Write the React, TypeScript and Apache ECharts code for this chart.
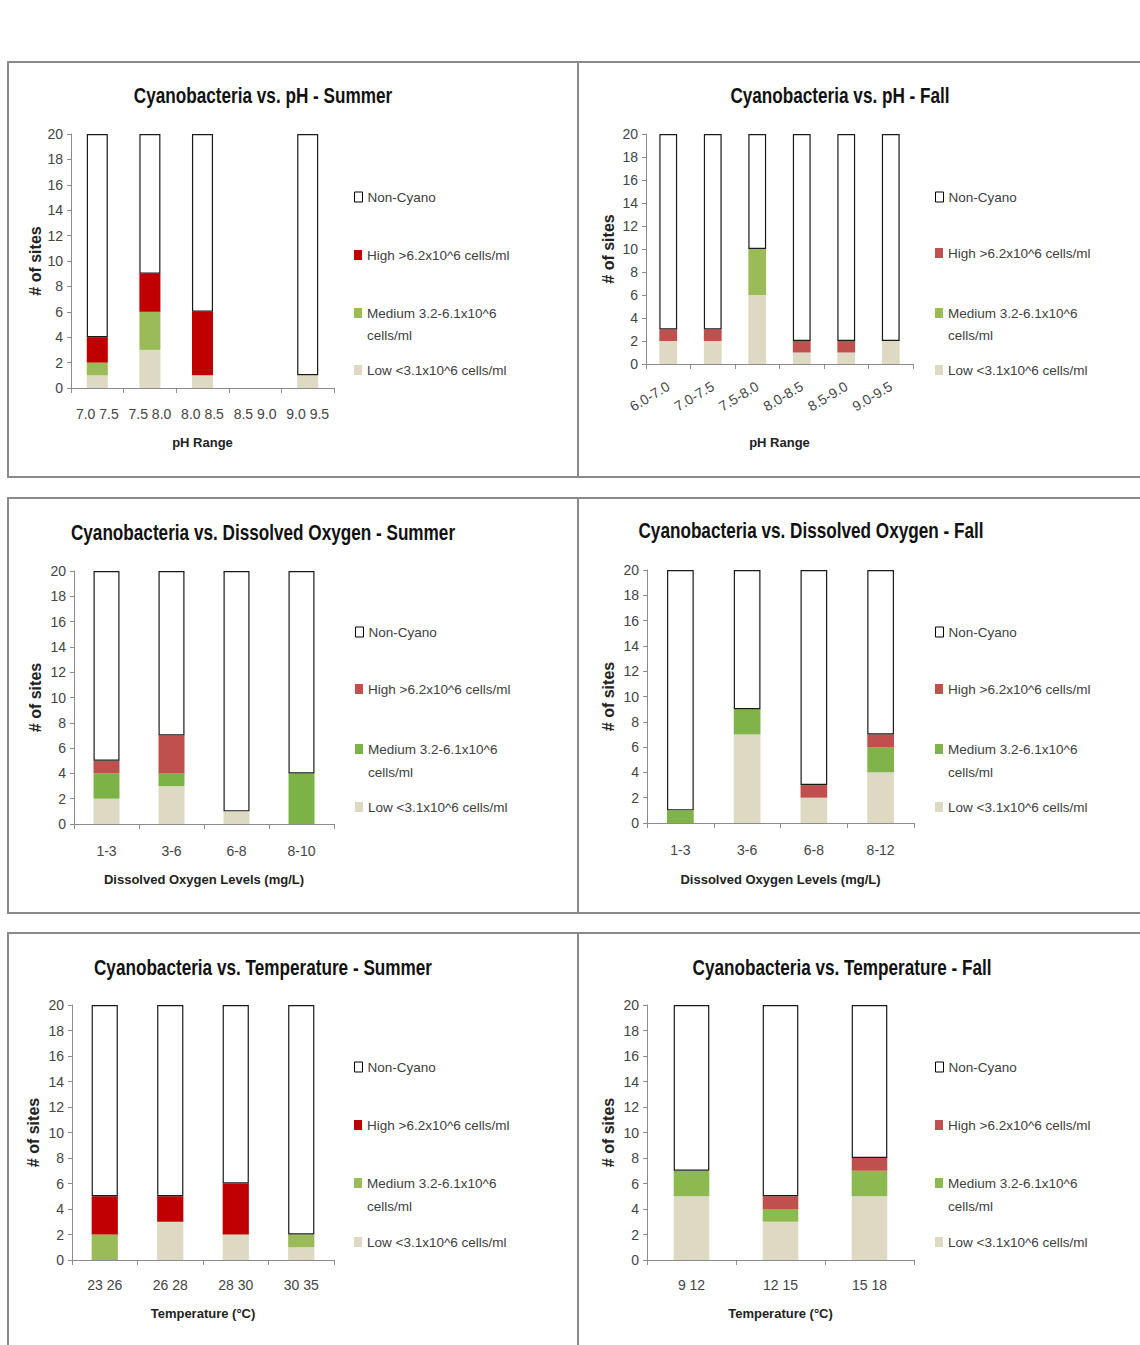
import React, { useEffect, useRef } from "react";
import * as echarts from "echarts";

const FONT = '"Liberation Sans Narrow", "Liberation Sans", Arial, sans-serif';

const NAME_LOW = "Low <3.1x10^6 cells/ml";
const NAME_MED = "Medium 3.2-6.1x10^6 cells/ml";
const NAME_HIGH = "High >6.2x10^6 cells/ml";
const NAME_NON = "Non-Cyano";

// ---- Data ----
const phSummerCats = ["7.0 7.5", "7.5 8.0", "8.0 8.5", "8.5 9.0", "9.0 9.5"];
const phSummerLow = [1, 3, 1, 0, 1];
const phSummerMed = [1, 3, 0, 0, 0];
const phSummerHigh = [2, 3, 5, 0, 0];
const phSummerNon = [16, 11, 14, 0, 19];

const phFallCats = ["6.0-7.0", "7.0-7.5", "7.5-8.0", "8.0-8.5", "8.5-9.0", "9.0-9.5"];
const phFallLow = [2, 2, 6, 1, 1, 2];
const phFallMed = [0, 0, 4, 0, 0, 0];
const phFallHigh = [1, 1, 0, 1, 1, 0];
const phFallNon = [17, 17, 10, 18, 18, 18];

const doSummerCats = ["1-3", "3-6", "6-8", "8-10"];
const doSummerLow = [2, 3, 1, 0];
const doSummerMed = [2, 1, 0, 4];
const doSummerHigh = [1, 3, 0, 0];
const doSummerNon = [15, 13, 19, 16];

const doFallCats = ["1-3", "3-6", "6-8", "8-12"];
const doFallLow = [0, 7, 2, 4];
const doFallMed = [1, 2, 0, 2];
const doFallHigh = [0, 0, 1, 1];
const doFallNon = [19, 11, 17, 13];

const tempSummerCats = ["23 26", "26 28", "28 30", "30 35"];
const tempSummerLow = [0, 3, 2, 1];
const tempSummerMed = [2, 0, 0, 1];
const tempSummerHigh = [3, 2, 4, 0];
const tempSummerNon = [15, 15, 14, 18];

const tempFallCats = ["9 12", "12 15", "15 18"];
const tempFallLow = [5, 3, 5];
const tempFallMed = [2, 1, 2];
const tempFallHigh = [0, 1, 1];
const tempFallNon = [13, 15, 12];

const Y_MIN = 0;
const Y_MAX = 20;
const Y_STEP = 2;

// ---- Layout / style per panel ----
const panels = [
  {
    title: "Cyanobacteria vs. pH - Summer", tx: 263, ty: 95,
    cats: phSummerCats, low: phSummerLow, med: phSummerMed, high: phSummerHigh, non: phSummerNon,
    cHigh: "#C00000", cMed: "#9BBB59", cLow: "#DDD9C3",
    grid: { left: 71, top: 134, width: 263, height: 254 },
    xName: "pH Range", xNameGap: 48, yNameGap: 28, labelMargin: 19, rotate: 0,
    legX: 354, rows: [197, 255, 313, 335, 370],
  },
  {
    title: "Cyanobacteria vs. pH - Fall", tx: 840, ty: 95,
    cats: phFallCats, low: phFallLow, med: phFallMed, high: phFallHigh, non: phFallNon,
    cHigh: "#C0504D", cMed: "#9BBB59", cLow: "#DDD9C3",
    grid: { left: 646, top: 134, width: 267, height: 230 },
    xName: "pH Range", xNameGap: 72, yNameGap: 30, labelMargin: 21, rotate: 31,
    legX: 935, rows: [197, 253, 313, 335, 370],
  },
  {
    title: "Cyanobacteria vs. Dissolved Oxygen - Summer", tx: 263, ty: 532,
    cats: doSummerCats, low: doSummerLow, med: doSummerMed, high: doSummerHigh, non: doSummerNon,
    cHigh: "#C0504D", cMed: "#7DB346", cLow: "#DDD9C3",
    grid: { left: 74, top: 571, width: 260, height: 253 },
    xName: "Dissolved Oxygen Levels (mg/L)", xNameGap: 49, yNameGap: 31, labelMargin: 20, rotate: 0,
    legX: 355, rows: [632, 689, 749, 772, 807],
  },
  {
    title: "Cyanobacteria vs. Dissolved Oxygen - Fall", tx: 811, ty: 530,
    cats: doFallCats, low: doFallLow, med: doFallMed, high: doFallHigh, non: doFallNon,
    cHigh: "#C0504D", cMed: "#80B44A", cLow: "#DDD9C3",
    grid: { left: 647, top: 570, width: 267, height: 253 },
    xName: "Dissolved Oxygen Levels (mg/L)", xNameGap: 50, yNameGap: 31, labelMargin: 20, rotate: 0,
    legX: 935, rows: [632, 689, 749, 772, 807],
  },
  {
    title: "Cyanobacteria vs. Temperature - Summer", tx: 263, ty: 967,
    cats: tempSummerCats, low: tempSummerLow, med: tempSummerMed, high: tempSummerHigh, non: tempSummerNon,
    cHigh: "#C00000", cMed: "#9BBB59", cLow: "#DDD9C3",
    grid: { left: 72, top: 1005, width: 262, height: 255 },
    xName: "Temperature (°C)", xNameGap: 47, yNameGap: 31, labelMargin: 18, rotate: 0,
    legX: 354, rows: [1067, 1125, 1183, 1206, 1242],
  },
  {
    title: "Cyanobacteria vs. Temperature - Fall", tx: 842, ty: 967,
    cats: tempFallCats, low: tempFallLow, med: tempFallMed, high: tempFallHigh, non: tempFallNon,
    cHigh: "#C0504D", cMed: "#8DBA50", cLow: "#DDD9C3",
    grid: { left: 647, top: 1005, width: 267, height: 255 },
    xName: "Temperature (°C)", xNameGap: 47, yNameGap: 31, labelMargin: 18, rotate: 0,
    legX: 935, rows: [1067, 1125, 1183, 1206, 1242],
  },
];

const nz = (arr: number[]) => arr.map((v) => (v === 0 ? "-" : v));

function buildOption() {
  const grid: any[] = [];
  const xAxis: any[] = [];
  const yAxis: any[] = [];
  const series: any[] = [];
  const legend: any[] = [];
  const graphic: any[] = [];

  const axisGray = "#8c8c8c";
  const labelColor = "#444";
  const legendFont = 13.5;

  panels.forEach((p, i) => {
    grid.push({ ...p.grid, containLabel: false });
    graphic.push({
      type: "text",
      x: p.tx,
      y: p.ty,
      scaleX: 0.78,
      style: {
        text: p.title,
        fontFamily: FONT,
        fontSize: 22,
        fontWeight: "bold",
        fill: "#111",
        align: "center",
        verticalAlign: "middle",
      },
    });
    xAxis.push({
      type: "category",
      gridIndex: i,
      data: p.cats,
      name: p.xName,
      nameLocation: "middle",
      nameGap: p.xNameGap,
      nameTextStyle: { fontFamily: FONT, fontSize: 13, fontWeight: "bold", color: "#222" },
      axisLine: { show: true, lineStyle: { color: axisGray, width: 1 } },
      axisTick: { show: true, length: 5, lineStyle: { color: axisGray } },
      axisLabel: {
        interval: 0,
        rotate: p.rotate,
        margin: p.labelMargin,
        fontFamily: FONT,
        fontSize: 14,
        color: labelColor,
      },
    });
    yAxis.push({
      type: "value",
      gridIndex: i,
      min: Y_MIN,
      max: Y_MAX,
      interval: Y_STEP,
      name: "# of sites",
      nameLocation: "middle",
      nameGap: p.yNameGap,
      nameTextStyle: { fontFamily: FONT, fontSize: 16, fontWeight: "bold", color: "#222" },
      axisLine: { show: true, lineStyle: { color: axisGray, width: 1 } },
      axisTick: { show: true, length: 4, lineStyle: { color: axisGray } },
      splitLine: { show: false },
      axisLabel: { margin: 8, fontFamily: FONT, fontSize: 14, color: labelColor },
    });
    const common = {
      type: "bar",
      stack: "s" + i,
      xAxisIndex: i,
      yAxisIndex: i,
      barCategoryGap: "60%",
    };
    series.push({ ...common, name: NAME_LOW, data: nz(p.low), itemStyle: { color: p.cLow } });
    series.push({ ...common, name: NAME_MED, data: nz(p.med), itemStyle: { color: p.cMed } });
    series.push({ ...common, name: NAME_HIGH, data: nz(p.high), itemStyle: { color: p.cHigh } });
    series.push({
      ...common,
      name: NAME_NON,
      data: nz(p.non),
      itemStyle: { color: "#ffffff", borderColor: "#1a1a1a", borderWidth: 1.2 },
    });

    const legCommon = {
      left: p.legX,
      orient: "vertical",
      padding: 0,
      itemWidth: 8,
      itemHeight: 10,
      icon: "rect",
      selectedMode: false,
      textStyle: { fontFamily: FONT, fontSize: legendFont, color: "#404040", lineHeight: 16 },
    };
    legend.push({
      ...legCommon,
      top: p.rows[0] - 8,
      data: [{ name: NAME_NON, itemStyle: { color: "#ffffff", borderColor: "#000", borderWidth: 1 } }],
    });
    legend.push({
      ...legCommon,
      top: p.rows[1] - 8,
      data: [{ name: NAME_HIGH, itemStyle: { color: p.cHigh } }],
    });
    legend.push({
      ...legCommon,
      top: p.rows[2] - 8,
      data: [{ name: NAME_MED, itemStyle: { color: p.cMed } }],
      formatter: () => "Medium 3.2-6.1x10^6",
    });
    legend.push({
      ...legCommon,
      top: p.rows[4] - 8,
      data: [{ name: NAME_LOW, itemStyle: { color: p.cLow } }],
    });
    graphic.push({
      type: "text",
      x: p.legX + 13,
      y: p.rows[3],
      style: {
        text: "cells/ml",
        fontFamily: FONT,
        fontSize: legendFont,
        fill: "#404040",
        verticalAlign: "middle",
      },
    });
  });

  // Panel frames
  const frame = "#8a8a8a";
  const ln = (x1: number, y1: number, x2: number, y2: number) => ({
    type: "line",
    shape: { x1, y1, x2, y2 },
    style: { stroke: frame, lineWidth: 2 },
    silent: true,
  });
  graphic.push(ln(7, 62, 1140, 62));
  graphic.push(ln(7, 477, 1140, 477));
  graphic.push(ln(7, 498, 1140, 498));
  graphic.push(ln(7, 913, 1140, 913));
  graphic.push(ln(7, 933, 1140, 933));
  [8, 578].forEach((x) => {
    graphic.push(ln(x, 62, x, 477));
    graphic.push(ln(x, 498, x, 913));
    graphic.push(ln(x, 933, x, 1345));
  });

  return {
    animation: false,
    backgroundColor: "#ffffff",
    textStyle: { fontFamily: FONT },
    legend,
    grid,
    xAxis,
    yAxis,
    series,
    graphic,
  };
}

export default function App() {
  const ref = useRef<HTMLDivElement>(null);
  useEffect(() => {
    if (!ref.current) return;
    const chart = echarts.init(ref.current, undefined, { renderer: "svg" });
    chart.setOption(buildOption() as any);
    return () => chart.dispose();
  }, []);
  return (
    <div
      ref={ref}
      style={{ position: "absolute", left: 0, top: 0, width: 1140, height: 1345, background: "#fff" }}
    />
  );
}
